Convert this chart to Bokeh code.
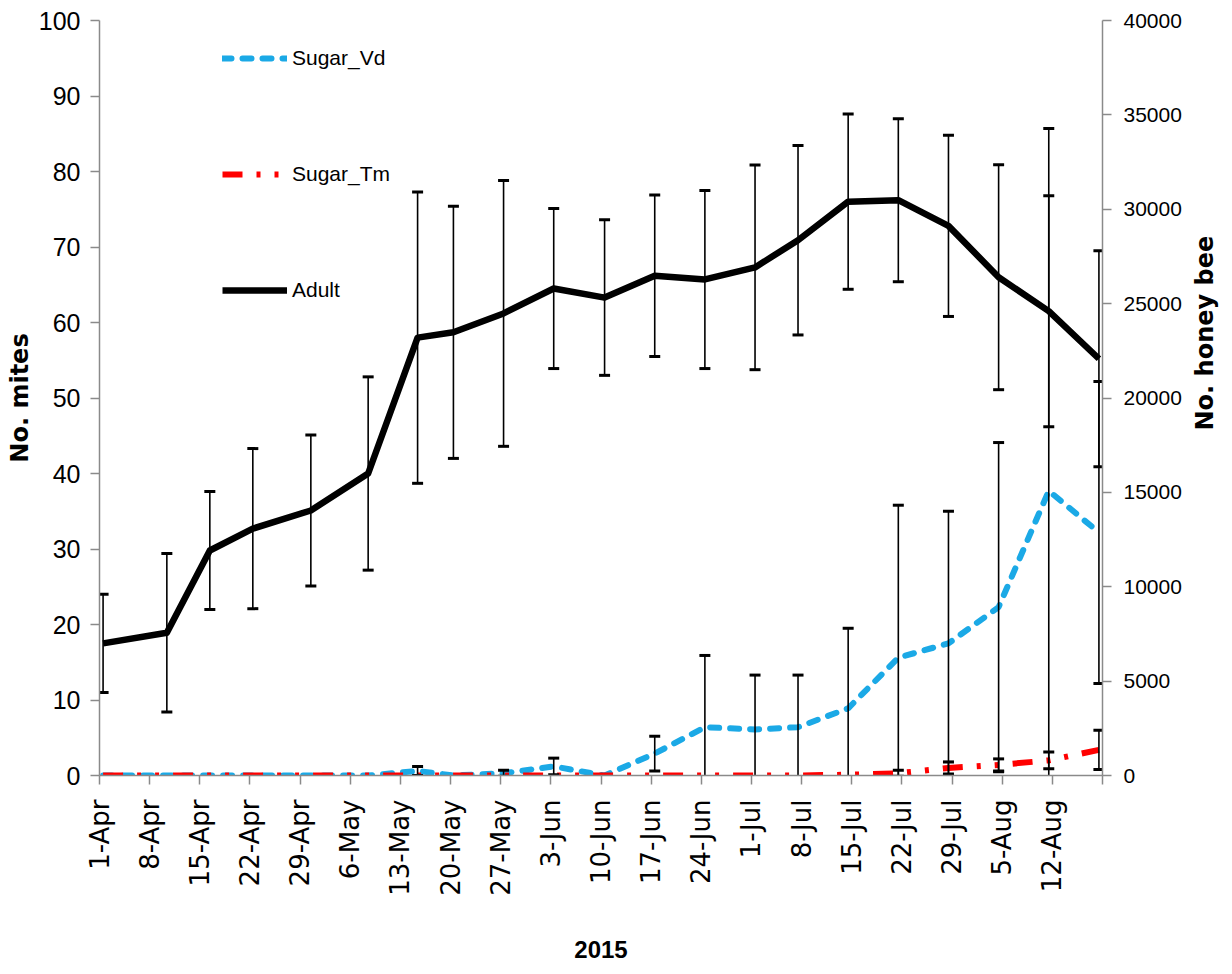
import math
from bokeh.plotting import figure
from bokeh.layouts import row
from bokeh.models import Range1d, LinearAxis, FixedTicker, Legend, LegendItem, Label
from bokeh.embed import file_html
from bokeh.resources import INLINE

# ---------------- data ----------------
tick_days = list(range(0, 141, 7))
tick_labels = ["1-Apr", "8-Apr", "15-Apr", "22-Apr", "29-Apr", "6-May", "13-May",
               "20-May", "27-May", "3-Jun", "10-Jun", "17-Jun", "24-Jun", "1-Jul",
               "8-Jul", "15-Jul", "22-Jul", "29-Jul", "5-Aug", "12-Aug", ""]

# sampling day (days after 1-Apr)
sample_day = [0.5, 9.4, 15.4, 21.4, 29.5, 37.5, 44.4, 49.4, 56.4, 63.4, 70.5,
              77.5, 84.5, 91.5, 97.5, 104.5, 111.5, 118.5, 125.5, 132.5, 139.5]

# No. honey bee (right axis)
adult = [7000, 7560, 11920, 13080, 14040, 16000, 23200, 23480, 24480, 25800, 25320,
         26480, 26280, 26920, 28360, 30400, 30480, 29120, 26400, 24600, 22080]
adult_err = [2600, 4200, 3120, 4240, 4000, 5120, 7720, 6680, 7040, 4240, 4120,
             4280, 4720, 5420, 5020, 4640, 4320, 4800, 5960, 6120, 5720]

# No. mites (left axis)
sugar_vd = [0, 0, 0, 0, 0, 0, 0.6, 0, 0.3, 1.2, 0,
            2.9, 6.4, 6.1, 6.4, 8.9, 15.6, 17.5, 22.3, 37.7, 32.2]
sugar_vd_err = [0, 0, 0, 0, 0, 0, 0.6, 0, 0.4, 1.1, 0,
                2.3, 9.5, 7.2, 6.9, 10.6, 20.2, 17.5, 21.8, 48.0, 20.0]

sugar_tm = [0, 0, 0, 0, 0, 0, 0, 0, 0, 0, 0,
            0, 0, 0, 0, 0.1, 0.3, 1.0, 1.4, 2.0, 3.4]
sugar_tm_err = [0, 0, 0, 0, 0, 0, 0, 0, 0, 0, 0,
                0, 0, 0, 0, 0, 0.4, 0.8, 0.8, 1.1, 2.6]

# ---------------- figure ----------------
H = 966
p = figure(width=1187, height=H, x_range=Range1d(0, 140), y_range=Range1d(0, 100),
           output_backend="svg", toolbar_location=None,
           min_border_left=99, min_border_right=85, min_border_top=20, min_border_bottom=191)
p.extra_y_ranges = {"right": Range1d(0, 40000)}
p.outline_line_color = None
p.xgrid.visible = False
p.ygrid.visible = False
p.background_fill_color = "white"
p.border_fill_color = "white"

AX = "#8a8a8a"
SANS = "Liberation Sans"

# lines
r_vd = p.line(sample_day, sugar_vd, line_color="#1BA9E6", line_width=6,
              line_dash="9 11", line_cap="round")
r_tm = p.line(sample_day, sugar_tm, line_color="#FF0000", line_width=6,
              line_dash="20 14 4 14 4 14")

# error bars (mites, left axis)
ex, elo, ehi = [], [], []
for xs, ys, es in ((sample_day, sugar_vd, sugar_vd_err), (sample_day, sugar_tm, sugar_tm_err)):
    for x, y, e in zip(xs, ys, es):
        if e > 0:
            ex.append(x)
            elo.append(y - e)
            ehi.append(y + e)
p.segment(ex, elo, ex, ehi, line_color="black", line_width=1.6)
p.scatter(ex + ex, elo + ehi, marker="dash", size=11, line_width=3, line_color="black")

# error bars (honey bees, right axis)
alo = [y - e for y, e in zip(adult, adult_err)]
ahi = [y + e for y, e in zip(adult, adult_err)]
p.segment(sample_day, alo, sample_day, ahi, line_color="black", line_width=1.6, y_range_name="right")
p.scatter(sample_day + sample_day, alo + ahi, marker="dash", size=11, line_width=3,
          line_color="black", y_range_name="right")

r_ad = p.line(sample_day, adult, line_color="black", line_width=6.5, y_range_name="right",
              line_join="round")

# ---------------- axes ----------------
xa = p.xaxis[0]
xa.ticker = FixedTicker(ticks=tick_days)
xa.major_label_overrides = {d: l for d, l in zip(tick_days, tick_labels)}
xa.major_label_orientation = math.pi / 2
xa.major_label_text_font = "DejaVu Sans"
xa.major_label_text_font_size = "26px"
xa.major_label_text_color = "black"
xa.major_label_standoff = 15
xa.axis_label = "2015"
xa.axis_label_text_font = SANS
xa.axis_label_text_font_style = "bold"
xa.axis_label_text_font_size = "24px"
xa.axis_label_text_color = "black"
xa.axis_label_standoff = 42

ya = p.yaxis[0]
ya.ticker = FixedTicker(ticks=list(range(0, 101, 10)))
ya.major_label_text_font = SANS
ya.major_label_text_font_size = "25px"
ya.major_label_text_color = "black"
ya.major_label_standoff = 10
ya.axis_label = "No. mites"
ya.axis_label_text_font = "DejaVu Sans"
ya.axis_label_text_font_style = "bold"
ya.axis_label_text_font_size = "24px"
ya.axis_label_text_color = "black"
ya.axis_label_standoff = 2

ra = LinearAxis(y_range_name="right", ticker=FixedTicker(ticks=list(range(0, 40001, 5000))))
ra.major_label_text_font = SANS
ra.major_label_text_font_size = "21px"
ra.major_label_text_color = "black"
ra.major_label_standoff = 12
p.add_layout(ra, "right")

for ax in (xa, ya, ra):
    ax.axis_line_color = AX
    ax.axis_line_width = 1.5
    ax.major_tick_line_color = AX
    ax.major_tick_line_width = 1.5
    ax.major_tick_out = 9
    ax.major_tick_in = 0
    ax.minor_tick_line_color = None

# ---------------- legend ----------------
legend = Legend(items=[LegendItem(label="Sugar_Vd", renderers=[r_vd]),
                       LegendItem(label="Sugar_Tm", renderers=[r_tm]),
                       LegendItem(label="Adult", renderers=[r_ad])],
                location=(123, 471))
legend.glyph_width = 65
legend.glyph_height = 28
legend.label_height = 28
legend.spacing = 88
legend.padding = 0
legend.margin = 0
legend.label_standoff = 5
legend.border_line_color = None
legend.background_fill_alpha = 0
legend.label_text_font = SANS
legend.label_text_font_size = "21px"
legend.label_text_color = "black"
p.add_layout(legend)

# ---------------- right-hand axis title strip ----------------
SW = 36
q = figure(width=SW, height=H, x_range=Range1d(0, SW), y_range=Range1d(H, 0),
           output_backend="svg", toolbar_location=None,
           x_axis_location=None, y_axis_location=None,
           min_border_left=0, min_border_right=0, min_border_top=0, min_border_bottom=0)
q.outline_line_color = None
q.xgrid.visible = False
q.ygrid.visible = False
q.background_fill_color = "white"
q.border_fill_color = "white"
q.add_layout(Label(x=17, y=400, text="No. honey bee", angle=math.pi / 2,
                   text_font="DejaVu Sans", text_font_style="bold", text_font_size="24px",
                   text_color="black", text_align="center", text_baseline="middle"))

layout = row(p, q, spacing=0)
open("out.html", "w").write(file_html(layout, INLINE))
